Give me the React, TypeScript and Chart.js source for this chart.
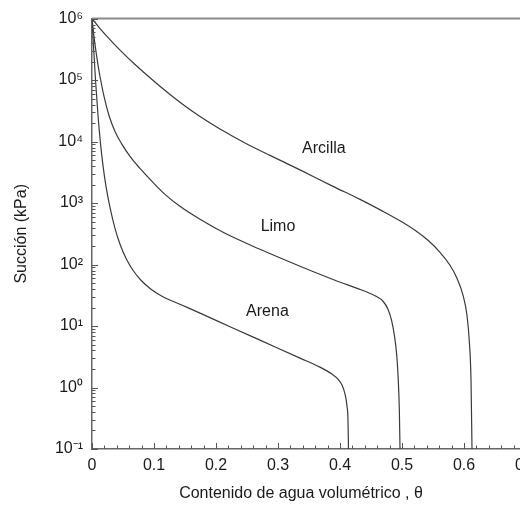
import React, { useEffect, useRef } from "react";
import { Chart, registerables } from "chart.js";

Chart.register(...registerables);

// Volumetric water content (θ) and suction (kPa)
const thetaArcilla = [0, 0.0129, 0.0290, 0.0452, 0.0694, 0.0968, 0.1258, 0.1500, 0.1742, 0.2065, 0.2468, 0.2871, 0.3355, 0.3887, 0.4323, 0.4694, 0.4968, 0.5210, 0.5419, 0.5613, 0.5774, 0.5887, 0.5984, 0.6048, 0.6089, 0.6113, 0.6129];
const suctionArcilla = [1000000, 688000, 456000, 307800, 179000, 102200, 58300, 37920, 25600, 16040, 9504, 5955, 3463, 1868, 1149, 733, 514, 360.5, 248, 158.3, 97.3, 59.9, 31.7, 15.0, 5.07, 1.32, 0.1];

const thetaLimo = [0, 0.0032, 0.0081, 0.0129, 0.0194, 0.0274, 0.0371, 0.0484, 0.0613, 0.0774, 0.0968, 0.1177, 0.1419, 0.1742, 0.2145, 0.2710, 0.3355, 0.3919, 0.4403, 0.4581, 0.4694, 0.4774, 0.4831, 0.4879, 0.4915, 0.4940, 0.4957, 0.4968];
const suctionLimo = [1000000, 510300, 224000, 114300, 54100, 26580, 14610, 8990, 5740, 3663, 2252, 1385, 884, 544, 322, 177, 93.8, 55.6, 36.8, 30.5, 25.3, 18.8, 12.45, 6.84, 3.36, 1.32, 0.43, 0.1];

const thetaArena = [0, 0.0024, 0.0057, 0.0097, 0.0137, 0.0177, 0.0226, 0.0290, 0.0371, 0.0452, 0.0548, 0.0661, 0.0790, 0.0952, 0.1129, 0.1419, 0.1742, 0.2226, 0.2710, 0.3355, 0.3677, 0.3871, 0.3968, 0.4032, 0.4081, 0.4113, 0.4129, 0.4137];
const suctionArena = [1000000, 364300, 98400, 26580, 9330, 4098, 1868, 852, 388, 213.5, 126.5, 80.8, 55.6, 39.7, 30.5, 22.6, 16.2, 9.76, 5.89, 3.006, 2.146, 1.652, 1.37, 1.095, 0.782, 0.499, 0.296, 0.1];

const seriesNames = ["Arcilla", "Limo", "Arena"];
const labelTheta = [0.374, 0.300, 0.283];
const labelSuction = [7740, 407, 17.0];

const xTitle = "Contenido de agua volumétrico , θ";
const yTitle = "Succión (kPa)";
const xMin = 0;
const xMax = 0.7;
const yMin = 0.1;
const yMax = 1000000;

const SUP: Record<string, string> = { "-": "⁻", "0": "⁰", "1": "¹", "2": "²", "3": "³", "4": "⁴", "5": "⁵", "6": "⁶", "7": "⁷", "8": "⁸", "9": "⁹" };
const sup = (n: number) => String(n).split("").map((c) => SUP[c] || c).join("");

const FONT = "'Liberation Sans', Arial, Helvetica, sans-serif";

const decorPlugin = {
  id: "decor",
  afterDatasetsDraw(chart: any) {
    const { ctx, chartArea: a, scales } = chart;
    const x = scales.x;
    const y = scales.y;
    ctx.save();
    // top and right frame
    ctx.strokeStyle = "#8c8c8c";
    ctx.lineWidth = 2;
    ctx.beginPath();
    ctx.moveTo(a.left, a.top);
    ctx.lineTo(a.right, a.top);
    ctx.lineTo(a.right, a.bottom);
    ctx.stroke();

    // inward tick marks
    ctx.strokeStyle = "#555";
    ctx.lineWidth = 1;
    ctx.beginPath();
    x.ticks.forEach((t: any) => {
      const v = t.value;
      const major = Math.abs(v * 10 - Math.round(v * 10)) < 1e-6;
      const px = Math.round(x.getPixelForValue(v)) + 0.5;
      const len = major ? 6 : 3.5;
      ctx.moveTo(px, a.bottom);
      ctx.lineTo(px, a.bottom - len);
    });
    y.ticks.forEach((t: any) => {
      const v = t.value;
      const e = Math.floor(Math.log10(v) + 1e-9);
      const sig = v / Math.pow(10, e);
      if (Math.abs(sig - Math.round(sig)) > 1e-6) return;
      const major = Math.round(sig) === 1;
      const py = Math.round(y.getPixelForValue(v)) + 0.5;
      const len = major ? 6 : 3.5;
      ctx.moveTo(a.left, py);
      ctx.lineTo(a.left + len, py);
    });
    ctx.stroke();
    ctx.restore();
  },
  afterDraw(chart: any) {
    const { ctx, scales } = chart;
    const x = scales.x;
    const y = scales.y;
    ctx.save();
    ctx.fillStyle = "#1a1a1a";
    ctx.font = `16px ${FONT}`;
    ctx.textAlign = "center";
    ctx.textBaseline = "middle";
    seriesNames.forEach((name, i) => {
      ctx.fillText(name, x.getPixelForValue(labelTheta[i]), y.getPixelForValue(labelSuction[i]));
    });
    // x axis title
    ctx.fillText(xTitle, 301, 494);
    ctx.restore();
  },
};

export default function App() {
  const ref = useRef<HTMLCanvasElement | null>(null);

  useEffect(() => {
    if (!ref.current) return;
    const mk = (t: number[], s: number[]) => t.map((v, i) => ({ x: v, y: s[i] }));
    const ds = (label: string, data: any[]) => ({
      label,
      data,
      borderColor: "#3a3a3a",
      borderWidth: 1.2,
      pointRadius: 0,
      fill: false,
      cubicInterpolationMode: "monotone" as const,
    });
    const chart = new Chart(ref.current, {
      type: "line",
      data: {
        datasets: [
          ds(seriesNames[0], mk(thetaArcilla, suctionArcilla)),
          ds(seriesNames[1], mk(thetaLimo, suctionLimo)),
          ds(seriesNames[2], mk(thetaArena, suctionArena)),
        ],
      },
      options: {
        responsive: false,
        animation: false,
        devicePixelRatio: 1,
        layout: { padding: { top: 18, right: 34, left: 0, bottom: 0 } },
        plugins: { legend: { display: false }, tooltip: { enabled: false } },
        scales: {
          x: {
            type: "linear",
            min: xMin,
            max: xMax,
            grid: { display: false, drawTicks: false },
            border: { display: true, color: "#666", width: 1.5 },
            ticks: {
              stepSize: 0.02,
              maxTicksLimit: 100,
              autoSkip: false,
              maxRotation: 0,
              padding: 7,
              color: "#1a1a1a",
              font: { family: FONT, size: 16 },
              callback: (v: any) => {
                const r = Math.round(Number(v) * 10);
                if (Math.abs(Number(v) * 10 - r) > 1e-6) return "";
                return r === 0 ? "0" : (r / 10).toFixed(1);
              },
            },
            afterFit: (s: any) => {
              s.height = 56;
            },
          },
          y: {
            type: "logarithmic",
            min: yMin,
            max: yMax,
            grid: { display: false, drawTicks: false },
            border: { display: true, color: "#666", width: 1.5 },
            ticks: {
              autoSkip: false,
              padding: 9,
              color: "#1a1a1a",
              font: { family: FONT, size: 16 },
              callback: (v: any) => {
                const e = Math.log10(Number(v));
                if (Math.abs(e - Math.round(e)) > 1e-6) return "";
                return "10" + sup(Math.round(e));
              },
            },
            title: {
              display: true,
              text: yTitle,
              color: "#1a1a1a",
              font: { family: FONT, size: 16 },
              padding: { top: 12, bottom: 0 },
            },
            afterFit: (s: any) => {
              s.width = 92;
            },
          },
        },
      },
      plugins: [decorPlugin],
    });
    return () => chart.destroy();
  }, []);

  return (
    <div style={{ position: "fixed", left: 0, top: 0, width: 520, height: 505, overflow: "hidden", background: "#fff" }}>
      <canvas ref={ref} width={560} height={505} style={{ display: "block" }} />
    </div>
  );
}
